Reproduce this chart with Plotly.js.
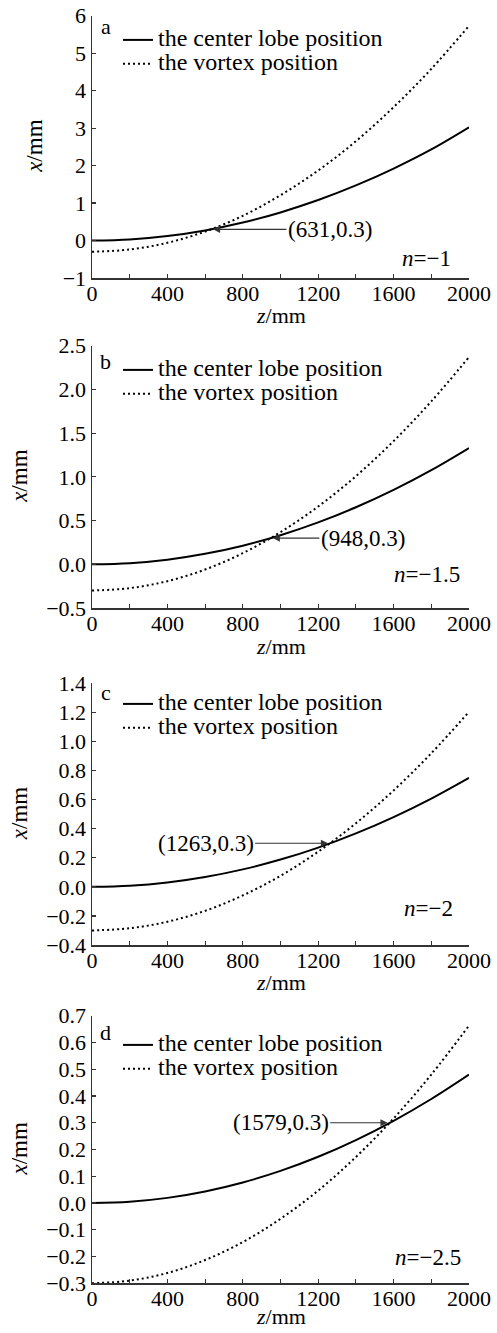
<!DOCTYPE html>
<html>
<head>
<meta charset="utf-8">
<script src="https://cdn.plot.ly/plotly-3.0.1.min.js"></script>
<style>html,body{margin:0;padding:0;background:#fff;}#chart{width:497px;height:1333px;}</style>
</head>
<body>
<div id="chart"></div>
<script>
// z positions (mm)
const z = [0, 200, 400, 600, 800, 1000, 1200, 1400, 1600, 1800, 2000];

// panel a (n = -1)
const centerA = [0, 0.03, 0.12, 0.27, 0.48, 0.75, 1.08, 1.47, 1.92, 2.43, 3.02];
const vortexA = [-0.30, -0.24, -0.06, 0.24, 0.66, 1.21, 1.87, 2.65, 3.56, 4.58, 5.73];
// panel b (n = -1.5)
const centerB = [0, 0.013, 0.053, 0.12, 0.213, 0.333, 0.479, 0.652, 0.851, 1.077, 1.33];
const vortexB = [-0.30, -0.273, -0.193, -0.06, 0.127, 0.368, 0.661, 1.008, 1.409, 1.863, 2.37];
// panel c (n = -2)
const centerC = [0, 0.0075, 0.03, 0.0675, 0.12, 0.1875, 0.27, 0.3675, 0.48, 0.6075, 0.75];
const vortexC = [-0.30, -0.285, -0.240, -0.165, -0.059, 0.076, 0.242, 0.437, 0.663, 0.919, 1.204];
// panel d (n = -2.5)
const centerD = [0, 0.0048, 0.0192, 0.0432, 0.0768, 0.12, 0.1728, 0.2352, 0.3072, 0.3888, 0.48];
const vortexD = [-0.30, -0.290, -0.2615, -0.213, -0.146, -0.059, 0.0465, 0.172, 0.316, 0.480, 0.663];

const panelLetters = ['a', 'b', 'c', 'd'];
const nLabels = ['−1', '−1.5', '−2', '−2.5'];
const crossZ = [631, 948, 1263, 1579];
const crossX = [0.3, 0.3, 0.3, 0.3];
const crossText = ['(631,0.3)', '(948,0.3)', '(1263,0.3)', '(1579,0.3)'];
const seriesNames = ['the center lobe position', 'the vortex position'];
const xTitle = '<i>z</i>/mm';
const yTitle = '<i>x</i>/mm';

const centers = [centerA, centerB, centerC, centerD];
const vortices = [vortexA, vortexB, vortexC, vortexD];

const FONT = 'Liberation Serif, Times New Roman, serif';
const W = 497, H = 1333;
const plotLeft = 92, plotRight = 469;
const plotTops = [15.7, 345.7, 683.3, 1015.7];
const plotBots = [278, 608, 945, 1283.3];
const yRanges = [[-1, 6], [-0.5, 2.5], [-0.4, 1.4], [-0.3, 0.7]];
const yDticks = [1, 0.5, 0.2, 0.1];
const yFormats = ['d', '.1f', '.1f', '.1f'];
const annAx = [1262, 1437, 603, 1001];
const nPos = [[0.958, 0.076], [0.982, 0.126], [0.963, 0.141], [0.984, 0.098]];
const letterPos = [0.957, 0.939, 0.963, 0.939];
const legendTops = [23, 353, 687, 1028];
const yTitleX = [35, 20, 19, 19];
const xTitleOffset = [38, 38, 37, 33];

const traces = [];
const layout = {
  width: W, height: H,
  margin: {l: 0, r: 0, t: 0, b: 0},
  paper_bgcolor: '#fff', plot_bgcolor: '#fff',
  font: {family: FONT, size: 22, color: '#000'},
  annotations: [],
  showlegend: true
};

for (let i = 0; i < 4; i++) {
  const xs = i === 0 ? 'x' : 'x' + (i + 1);
  const ys = i === 0 ? 'y' : 'y' + (i + 1);
  const xk = i === 0 ? 'xaxis' : 'xaxis' + (i + 1);
  const yk = i === 0 ? 'yaxis' : 'yaxis' + (i + 1);
  const lg = i === 0 ? 'legend' : 'legend' + (i + 1);
  const hPx = plotBots[i] - plotTops[i];
  const wPx = plotRight - plotLeft;

  traces.push({
    x: z, y: centers[i], xaxis: xs, yaxis: ys, type: 'scatter', mode: 'lines',
    name: '<span style="font-size:24px">' + seriesNames[0] + '</span>',
    line: {color: '#000', width: 2, shape: 'spline'}, legend: lg, hoverinfo: 'skip'
  });
  traces.push({
    x: z, y: vortices[i], xaxis: xs, yaxis: ys, type: 'scatter', mode: 'lines',
    name: '<span style="font-size:24px">' + seriesNames[1] + '</span>',
    line: {color: '#000', width: 2, dash: '2px,3px', shape: 'spline'}, legend: lg, hoverinfo: 'skip'
  });

  layout[xk] = {
    domain: [plotLeft / W, plotRight / W],
    anchor: ys,
    range: [0, 2000], dtick: 400, tick0: 0,
    showline: true, linecolor: '#333', linewidth: 1.5,
    ticks: 'inside', ticklen: 4, tickcolor: '#333', tickwidth: 1.2,
    minor: {dtick: 200, ticks: 'inside', ticklen: 4, tickcolor: '#333', tickwidth: 1.2},
    showgrid: false, zeroline: false,
    ticklabelstandoff: -5,
    tickfont: {family: FONT, size: 22, color: '#000'}
  };
  layout[yk] = {
    domain: [1 - plotBots[i] / H, 1 - plotTops[i] / H],
    anchor: xs,
    range: yRanges[i], dtick: yDticks[i], tick0: 0, tickformat: yFormats[i],
    showline: true, linecolor: '#333', linewidth: 1.5,
    ticks: 'inside', ticklen: 4, tickcolor: '#333', tickwidth: 1.2,
    showgrid: false, zeroline: false,
    tickfont: {family: FONT, size: 22, color: '#000'}
  };
  layout[lg] = {
    x: 118 / W, xanchor: 'left', xref: 'paper',
    y: 1 - legendTops[i] / H, yanchor: 'top', yref: 'paper',
    bgcolor: 'rgba(0,0,0,0)', borderwidth: 0,
    font: {family: FONT, size: 16, color: '#000'},
    itemwidth: 30, tracegroupgap: 0
  };

  // axis titles
  layout.annotations.push({
    x: 0.5, y: -xTitleOffset[i] / hPx, xref: xs + ' domain', yref: ys + ' domain',
    xanchor: 'center', yanchor: 'middle', showarrow: false, borderpad: 0,
    text: xTitle, font: {family: FONT, size: 22, color: '#000'}
  });
  layout.annotations.push({
    x: (yTitleX[i] - plotLeft) / wPx, y: 0.5, xref: xs + ' domain', yref: ys + ' domain',
    xanchor: 'center', yanchor: 'middle', showarrow: false, textangle: -90,
    text: yTitle, font: {family: FONT, size: 23, color: '#000'}
  });
  // arrow annotation
  layout.annotations.push({
    x: crossZ[i], y: crossX[i], xref: xs, yref: ys,
    ax: annAx[i], ay: crossX[i], axref: xs, ayref: ys,
    text: crossText[i], showarrow: true, arrowhead: 2, arrowsize: 1.2, arrowwidth: 1.2,
    arrowcolor: '#333', standoff: 2,
    font: {family: FONT, size: 23, color: '#000'}
  });
  // n label
  layout.annotations.push({
    x: nPos[i][0], y: nPos[i][1], xref: xs + ' domain', yref: ys + ' domain',
    xanchor: 'right', yanchor: 'middle', showarrow: false,
    text: '<i>n</i>=' + nLabels[i],
    font: {family: FONT, size: 23, color: '#000'}
  });
  // panel letter
  layout.annotations.push({
    x: 0.037, y: letterPos[i], xref: xs + ' domain', yref: ys + ' domain',
    xanchor: 'center', yanchor: 'middle', showarrow: false,
    text: panelLetters[i],
    font: {family: FONT, size: 22, color: '#000'}
  });
}

Plotly.newPlot('chart', traces, layout, {staticPlot: true, displayModeBar: false});
</script>
</body>
</html>
